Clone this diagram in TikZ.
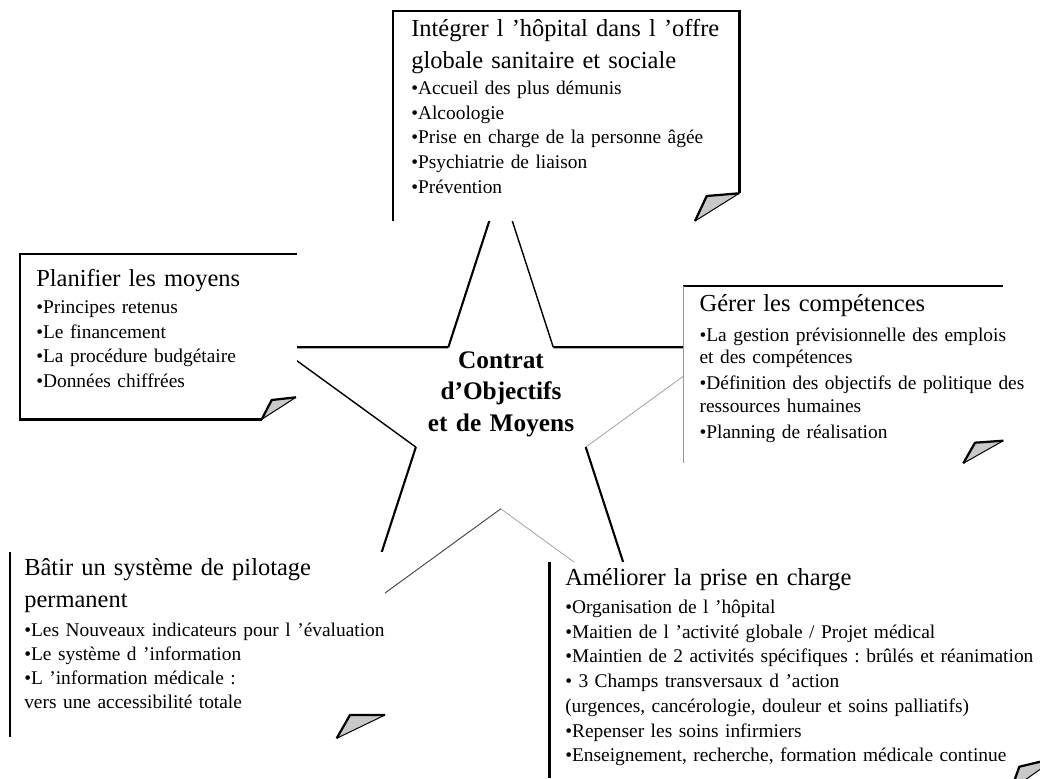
\documentclass[tikz,border=0pt]{standalone}
\usepackage{fontspec}
\setmainfont{Liberation Serif}
\usetikzlibrary{calc}
\frenchspacing
\definecolor{foldgray}{RGB}{200,200,200}
% coin replie d'une fiche : bas, pointe, droite
\newcommand{\dogear}[3]{%
  \fill[foldgray] #1 -- #2 -- #3 -- cycle;
  \draw[line width=0.7pt] #1 -- #3;
  \draw[line width=1.6pt,line join=round] #1 -- #2 -- #3;}

\begin{document}
\begin{tikzpicture}[x=0.025cm,y=-0.025cm,
    rim/.style={line width=1.8pt},
    thinrim/.style={line width=0.6pt,color=black!40},
    bigline/.style={line width=1.5pt},
    midline/.style={line width=1pt},
    faintline/.style={line width=0.5pt,color=black!40},
    titletext/.style={anchor=base west,inner sep=0pt,text width=11cm,align=left,
      font=\fontsize{17.4}{22.8}\selectfont},
    itemtext/.style={anchor=base west,inner sep=0pt,text width=14cm,align=left,
      font=\fontsize{13.8}{17.6}\selectfont}]
  \fill[white] (0,0) rectangle (1040,778);
  \useasboundingbox (0,0) rectangle (1040,778);
  \clip (0,0) rectangle (1040,778);

  % The star
  \coordinate (etoile) at (500.8,419.5);
  \foreach \i in {0,...,4} {
    \coordinate (pointe\i) at ($(etoile)+({-90+72*\i}:234)$);
    \coordinate (creux\i) at ($(etoile)+({-54+72*\i}:89.3)$);
  }
  \draw[midline]   (pointe0) -- (creux0);
  \draw[bigline]   (creux0) -- (pointe1);
  \draw[faintline] (pointe1) -- (creux1);
  \draw[bigline]   (creux1) -- (pointe2);
  \draw[faintline] (pointe2) -- (creux2);
  \draw[line width=0.7pt,color=black!70] (creux2) -- (pointe3);
  \draw[bigline]   (pointe3) -- (creux3);
  \draw[midline]   (creux3) -- (pointe4);
  \draw[bigline]   (pointe4) -- (creux4);
  \draw[bigline]   (creux4) -- (pointe0);

  % Top sheet
  \fill[white] (393,11) rectangle (739.3,221);
  \draw[rim] (393,221) -- (393,11) -- (739.3,11) -- (739.3,193.3);
  \dogear{(695,221)}{(706.7,196)}{(739.3,193.3)}

  % Left sheet
  \fill[white] (20,254) rectangle (297,419.3);
  \draw[rim] (297,254) -- (20,254) -- (20,419.3) -- (261.7,419.3);
  \dogear{(261.7,419.3)}{(271.7,400)}{(296,397.3)}

  % Right sheet
  \fill[white] (683.3,286) rectangle (1003.3,463.3);
  \draw[rim] (683.3,286) -- (1003.3,286);
  \draw[thinrim] (683.3,286) -- (683.3,463.3);
  \dogear{(963.3,463.3)}{(975,442.7)}{(1003.3,440.7)}

  % Bottom left sheet
  \fill[white] (10,552) rectangle (385,738.3);
  \draw[rim] (10,552) -- (10,737);
  \dogear{(336.7,738.3)}{(350,715)}{(385,715)}

  % Bottom right sheet
  \fill[white] (549.5,562) rectangle (1040,778);
  \draw[rim] (549.5,562) -- (549.5,778);
  \dogear{(1011,790)}{(1019.3,766.7)}{(1056,758)}

  % Texts
  \node[titletext] (integrer) at (411,36) {Intégrer l ’hôpital dans l ’offre\\globale sanitaire et sociale};
  \node[itemtext] (integrer-liste) at (411,94.3) {•Accueil des plus démunis\\•Alcoologie\\•Prise en charge de la personne âgée\\•Psychiatrie de liaison\\•Prévention};

  \node[titletext] (planifier) at (36,286) {Planifier les moyens};
  \node[itemtext] (planifier-liste) at (36,313.3) {•Principes retenus\\•Le financement\\•La procédure budgétaire\\•Données chiffrées};

  \node[titletext] (gerer) at (699.3,311.7) {Gérer les compétences};
  \node[itemtext,font=\fontsize{13.8}{16}\selectfont] (gerer-liste) at (699.3,341) {•La gestion prévisionnelle des emplois\\et des compétences\\[2.8pt]•Définition des objectifs de politique des\\ressources humaines\\[2.8pt]•Planning de réalisation};

  \node[titletext] (batir) at (24,575) {Bâtir un système de pilotage\\permanent};
  \node[itemtext,font=\fontsize{13.8}{17}\selectfont] (batir-liste) at (24,636.7) {•Les Nouveaux indicateurs pour l ’évaluation\\•Le système d ’information\\•L ’information médicale :\\vers une accessibilité totale};

  \node[titletext] (ameliorer) at (565,585) {Améliorer la prise en charge};
  \node[itemtext] (ameliorer-liste) at (565,613.3) {•Organisation de l ’hôpital\\•Maitien de l ’activité globale / Projet médical\\•Maintien de 2 activités spécifiques : brûlés et réanimation\\• 3 Champs transversaux d ’action\\(urgences, cancérologie, douleur et soins palliatifs)\\•Repenser les soins infirmiers\\•Enseignement, recherche, formation médicale continue};

  \node[anchor=base,inner sep=0pt,text width=6cm,align=center,
    font=\fontsize{18}{22.5}\selectfont\bfseries] (contrat) at (501,368.3) {Contrat\\d’Objectifs\\et de Moyens};
\end{tikzpicture}
\end{document}
